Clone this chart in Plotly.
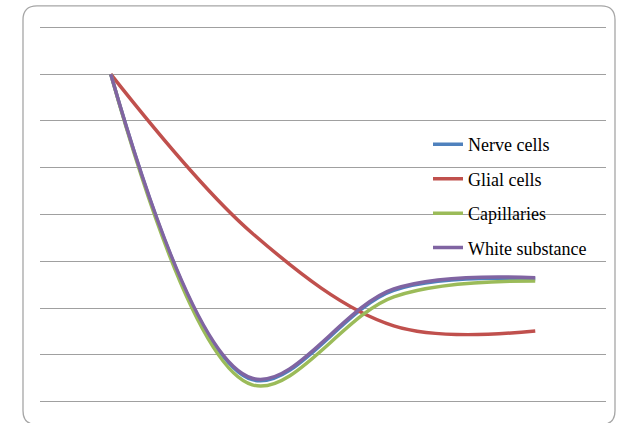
import plotly.graph_objects as go

# ---- data ----
stages = [1, 2, 3, 4]
series_names = ["Nerve cells", "Glial cells", "Capillaries", "White substance"]
nerve_cells = [7.0, 0.47, 2.38, 2.62]
glial_cells = [7.0, 3.60, 1.62, 1.51]
capillaries = [7.0, 0.36, 2.24, 2.58]
white_substance = [7.0, 0.50, 2.41, 2.65]
y_ticks = [0, 1, 2, 3, 4, 5, 6, 7, 8]

colors = ["#4F81BD", "#C0504D", "#9BBB59", "#8064A2"]
smooth = [1.0, 1.0, 1.0, 1.0]
values = [nerve_cells, glial_cells, capillaries, white_substance]

fig = go.Figure()
for i, (name, vals) in enumerate(zip(series_names, values)):
    fig.add_trace(go.Scatter(
        x=stages, y=vals, name=name, mode="lines",
        line=dict(color=colors[i], width=3.5, shape="spline", smoothing=smooth[i]),
        legendgroup=f"g{i}",
    ))

W, H = 617, 423
UNIT = 46.875          # pixels per y unit
PAD = 0.05             # small y padding so edge gridlines are drawn
L, R = 40, 11
T = 27 - PAD * UNIT
B = 21 - PAD * UNIT
pw, ph = W - L - R, H - T - B
bottom_px = H - B

def px_x(px):
    return (px - L) / pw

def px_y(py):
    return (bottom_px - py) / ph

# rounded outer border (pixel geometry converted to paper coords)
bx0, bx1, by0, by1, rad = 23, 615, 5.5, 425, 14
X0, X1 = px_x(bx0), px_x(bx1)
Yt, Yb = px_y(by0), px_y(by1)
rx, ry = rad / pw, rad / ph
path = (f"M {X0+rx},{Yt} L {X1-rx},{Yt} Q {X1},{Yt} {X1},{Yt-ry} "
        f"L {X1},{Yb+ry} Q {X1},{Yb} {X1-rx},{Yb} "
        f"L {X0+rx},{Yb} Q {X0},{Yb} {X0},{Yb+ry} "
        f"L {X0},{Yt-ry} Q {X0},{Yt} {X0+rx},{Yt} Z")

shapes = [
    dict(type="path", xref="paper", yref="paper", path=path,
         line=dict(color="#A6A6A6", width=1.3), layer="below"),
    dict(type="rect", xref="paper", yref="paper",
         x0=px_x(433), x1=px_x(608), y0=px_y(222), y1=px_y(205),
         fillcolor="white", line=dict(width=0), layer="between"),
]

fig.update_layout(
    width=W, height=H,
    margin=dict(l=L, r=R, t=T, b=B, pad=0),
    paper_bgcolor="white", plot_bgcolor="white",
    showlegend=True,
    legend=dict(
        x=px_x(428), y=px_y(126), xanchor="left", yanchor="top",
        font=dict(family="Liberation Serif", size=18, color="#000000"),
        bgcolor="rgba(0,0,0,0)", traceorder="grouped", tracegroupgap=8,
        itemwidth=30,
    ),
    xaxis=dict(range=[0.5, 4.5], showgrid=False, zeroline=False,
               showticklabels=False, ticks="", showline=False),
    yaxis=dict(range=[-PAD, 8 + PAD], tickvals=y_ticks, showgrid=True,
               gridcolor="#A0A0A0", gridwidth=1.3, zeroline=False,
               showticklabels=False, ticks="", showline=False),
    shapes=shapes,
)

fig.write_html("out.html", config={"displayModeBar": False},
               post_script="document.body.style.margin='0';")
